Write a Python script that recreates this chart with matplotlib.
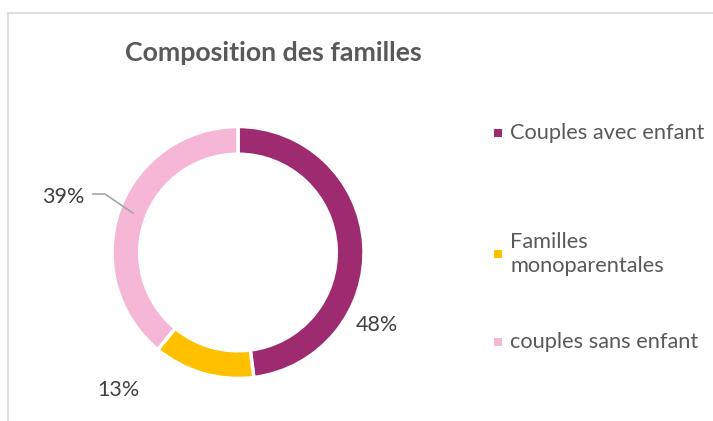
import matplotlib
matplotlib.use("Agg")
import matplotlib.pyplot as plt
from matplotlib.patches import Rectangle
from matplotlib.lines import Line2D

# Data
categories = ["Couples avec enfant", "Familles\nmonoparentales", "couples sans enfant"]
shares = [48, 13, 39]
colors = ["#9E2B6F", "#FFC000", "#F5B7D5"]

# Label positions (data coords of the pie axes), Excel "best fit" style
label_pos = [(1.10, -0.575), (-0.95, -1.09), (-1.39, 0.44)]
legend_y = [133, 254, 342]  # pixel rows from top

plt.rcParams["font.family"] = ["Lato", "DejaVu Sans"]

W, H = 713, 421
fig = plt.figure(figsize=(W / 100, H / 100), dpi=100)

# chart frame (top and left edges visible)
fig.add_artist(Line2D([8 / W, 1], [1 - 13 / H, 1 - 13 / H], color="#D9D9D9", lw=1.2))
fig.add_artist(Line2D([8 / W, 8 / W], [0, 1 - 13 / H], color="#D9D9D9", lw=1.2))

cx, cy, R = 238, 252.5, 126
ax = fig.add_axes([(cx - R) / W, 1 - (cy + R) / H, 2 * R / W, 2 * R / H])
ax.pie(shares, colors=colors, startangle=90, counterclock=False, radius=1,
       wedgeprops=dict(width=0.22, edgecolor="white", linewidth=2.5))
ax.set_xlim(-1, 1)
ax.set_ylim(-1, 1)
ax.set_aspect("equal")
ax.axis("off")

for v, (x, y) in zip(shares, label_pos):
    ax.text(x, y, f"{v}%", ha="center", va="center", fontsize=15.5, color="#404040")

# leader line for the 39% label
ax.plot([-1.151, -1.056, -0.833], [0.464, 0.464, 0.313], color="#A6A6A6", lw=1.2,
        clip_on=False)

fig.text(273 / W, 1 - 53 / H, "Composition des familles", ha="center", va="center",
         fontsize=19.3, fontweight="bold", color="#595959")

for lab, col, y in zip(categories, colors, legend_y):
    fig.add_artist(Rectangle((494 / W, 1 - (y + 4) / H), 8 / W, 8 / H,
                             facecolor=col, edgecolor="none"))
    fig.text(510 / W, 1 - y / H, lab, ha="left", va="center", fontsize=15.7,
             color="#595959", linespacing=1.3, multialignment="left")

fig.savefig("out.png", dpi=100)
